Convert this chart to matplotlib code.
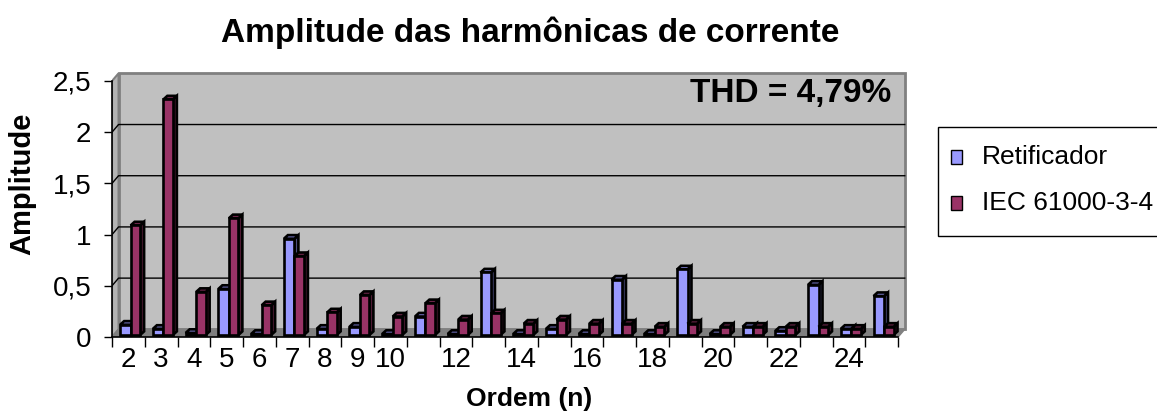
import matplotlib
matplotlib.use("Agg")
import matplotlib.pyplot as plt
from matplotlib.patches import Polygon, Rectangle

# Harmonic orders and amplitudes
ordem = list(range(2, 26))
retificador = [0.10, 0.06, 0.02, 0.45, 0.01, 0.94, 0.06, 0.08, 0.01, 0.18, 0.01, 0.61,
               0.01, 0.06, 0.01, 0.54, 0.01, 0.64, 0.01, 0.08, 0.04, 0.49, 0.06, 0.38]
iec = [1.07, 2.30, 0.42, 1.14, 0.29, 0.77, 0.22, 0.39, 0.18, 0.31, 0.15, 0.21,
       0.11, 0.15, 0.11, 0.11, 0.08, 0.11, 0.08, 0.08, 0.08, 0.08, 0.06, 0.08]
ordem_labels = [2, 3, 4, 5, 6, 7, 8, 9, 10, 12, 14, 16, 18, 20, 22, 24]
y_ticks = [0, 0.5, 1, 1.5, 2, 2.5]
series_names = ["Retificador", "IEC 61000-3-4"]
thd_text = "THD = 4,79%"

plt.rcParams["font.family"] = ["Liberation Sans", "DejaVu Sans"]

W, H = 1157, 416
COL_RET = ("#9999ff", "#7a7acc", "#4d4d80")
COL_IEC = ("#993366", "#7a2952", "#4d1a33")

# depth offsets (wall and bars)
WDX, WDY = 0.2, 0.075
BDX, BDY = 0.12, 0.035
BASE = 0.02
YMAX = 2.5
N = len(ordem)


def px(x, y):
    """Pixel position (from top-left) to figure fraction."""
    return x / W, 1 - y / H


def bar3d(ax, x0, x1, h, colors):
    """Draw a pseudo-3D column with front, top and side faces."""
    front, top, side = colors
    kw = dict(edgecolor="black", linewidth=1.9, joinstyle="miter", zorder=5)
    y0, y1 = BASE, BASE + h
    ax.add_patch(Polygon([(x1, y0), (x1 + BDX, y0 + BDY), (x1 + BDX, y1 + BDY), (x1, y1)],
                         facecolor=side, **kw))
    ax.add_patch(Polygon([(x0, y1), (x1, y1), (x1 + BDX, y1 + BDY), (x0 + BDX, y1 + BDY)],
                         facecolor=top, **kw))
    ax.add_patch(Rectangle((x0, y0), x1 - x0, h, facecolor=front, **kw))


fig = plt.figure(figsize=(W / 100, H / 100), dpi=100)
ax = fig.add_axes([112 / W, 79 / H, 796 / W, 268 / H])
ax.set_xlim(0, N + 0.3)
ax.set_ylim(0, 268 / 102.4)

# walls and floor
ax.add_patch(Polygon([(0, 0), (WDX, WDY), (WDX, YMAX + WDY), (0, YMAX)],
                     facecolor="#b4b4b4", edgecolor="#808080", linewidth=1.5, zorder=1))
ax.add_patch(Rectangle((WDX, WDY), N, YMAX, facecolor="#c0c0c0",
                       edgecolor="#808080", linewidth=2, zorder=1))
ax.add_patch(Polygon([(0, 0), (N, 0), (N + WDX, WDY), (WDX, WDY)],
                     facecolor="#808080", edgecolor="#808080", linewidth=1, zorder=2))

# gridlines on side and back walls
for v in y_ticks[1:-1]:
    ax.plot([0, WDX, N + WDX], [v, v + WDY, v + WDY], color="black", linewidth=1, zorder=2)

# columns
for i, (r, e) in enumerate(zip(retificador, iec)):
    c = i + 0.5
    bar3d(ax, c - 0.25, c + 0.07, r, COL_RET)
    bar3d(ax, c + 0.07, c + 0.36, e, COL_IEC)

# THD annotation
ax.text(N - 0.2, 2.38, thd_text, fontsize=24, fontweight="bold",
        ha="right", va="center", zorder=6)

# axes: only the front left and bottom lines
for s in ("top", "right"):
    ax.spines[s].set_visible(False)
ax.spines["left"].set_bounds(0, YMAX)
ax.spines["bottom"].set_bounds(0, N)
ax.spines["left"].set_linewidth(1.2)
ax.spines["bottom"].set_linewidth(1.2)

ax.set_yticks(y_ticks)
ax.set_yticklabels([f"{v:g}".replace(".", ",") for v in y_ticks])
ax.set_xticks(range(N + 1))
ax.set_xticklabels([])
ax.set_xticks([o - 2 + 0.5 for o in ordem_labels], minor=True)
ax.set_xticklabels([str(o) for o in ordem_labels], minor=True)
ax.tick_params(axis="y", length=6, width=1, labelsize=20, pad=9)
ax.tick_params(axis="x", which="major", length=7, width=1)
ax.tick_params(axis="x", which="minor", length=0, labelsize=20, pad=7)

ax.set_xlabel("Ordem (n)", fontsize=19, fontweight="bold")
ax.xaxis.set_label_coords(0.524, -0.185)
ax.set_ylabel("Amplitude", fontsize=21, fontweight="bold")
ax.yaxis.set_label_coords(-0.095, 0.57)

fig.text(*px(530, 33), "Amplitude das harmônicas de corrente", fontsize=24,
         fontweight="bold", ha="center", va="center")

# legend box, partly running past the right edge
fig.add_artist(Rectangle(px(938, 236), 240 / W, 109 / H, transform=fig.transFigure,
                         facecolor="white", edgecolor="black", linewidth=1))
for name, colors, y in zip(series_names, (COL_RET, COL_IEC), (157, 203)):
    fig.add_artist(Rectangle(px(951, y + 7), 11 / W, 14 / H, transform=fig.transFigure,
                             facecolor=colors[0], edgecolor="black", linewidth=1))
    fig.text(*px(982, y), name, fontsize=19, ha="left", va="center")

fig.savefig("out.png", dpi=100)
